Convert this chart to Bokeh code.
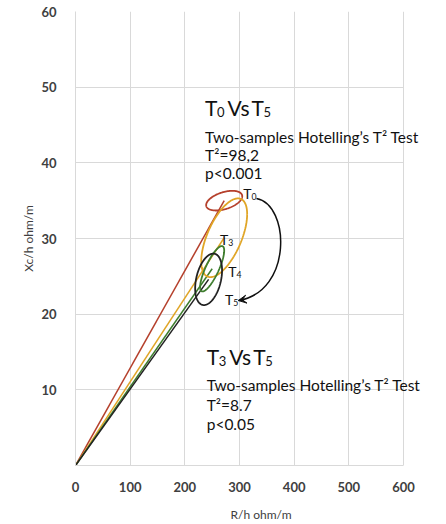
import numpy as np
from bokeh.plotting import figure
from bokeh.models import Range1d, FixedTicker, Label, Arrow, VeeHead, Title, Grid
from bokeh.embed import file_html
from bokeh.resources import INLINE

# ---- data ----
groups = ["0", "3", "4", "5"]               # T0, T3, T4, T5
colors = ["#B5402C", "#E0A526", "#3E7D2E", "#222222"]
mean_r = [272.0, 272.0, 250.0, 243.5]      # R/h ohm/m  (ellipse centre, vector end)
mean_xc = [35.0, 30.1, 26.0, 24.6]         # Xc/h ohm/m
half_r = [33.0, 42.0, 22.0, 24.6]          # ellipse half-extent along R/h
half_xc = [1.3, 5.2, 3.0, 3.4]             # ellipse half-extent along Xc/h
corr = [0.45, 0.6, 0.8, 0.35]              # ellipse tilt (correlation)

x_ticks = [0, 100, 200, 300, 400, 500, 600]
y_ticks = [10, 20, 30, 40, 50, 60]

# annotation texts
test_name = "Two-samples Hotelling’s T² Test"
upper_pair, upper_t2, upper_p = ("0", "5"), "T²=98,2", "p<0.001"
lower_pair, lower_t2, lower_p = ("3", "5"), "T²=8.7", "p<0.05"

FONT = "Lato"
W, H = 446, 524
LEFT, RIGHT_AXIS, TOP, BOTTOM = 75, 403, 11, 49
x_end = x_ticks[-1] * (W - LEFT) / (RIGHT_AXIS - LEFT)   # frame runs to the page edge

p = figure(width=W, height=H, x_range=Range1d(0, x_end), y_range=Range1d(0, y_ticks[-1]),
           output_backend="svg", toolbar_location=None,
           min_border_left=LEFT, min_border_right=0, min_border_top=TOP,
           min_border_bottom=BOTTOM)
p.outline_line_color = None
p.background_fill_color = "white"
p.border_fill_color = "white"

p.xaxis.ticker = FixedTicker(ticks=x_ticks)
p.yaxis.ticker = FixedTicker(ticks=y_ticks)
p.xaxis.bounds = (0, x_ticks[-1])
p.xgrid.ticker = FixedTicker(ticks=x_ticks)
p.ygrid.ticker = FixedTicker(ticks=[0] + y_ticks)
for g in (p.xgrid, p.ygrid):
    g.grid_line_color = "#D9D9D9"
    g.grid_line_width = 1
if "cross_bounds" in Grid.properties():
    p.ygrid.cross_bounds = (0, x_ticks[-1])
else:
    p.ygrid.visible = False
    p.segment(x0=[0] * len(y_ticks), x1=[x_ticks[-1]] * len(y_ticks), y0=y_ticks, y1=y_ticks,
              line_color="#D9D9D9", line_width=1)

for ax in (p.xaxis, p.yaxis):
    ax.axis_line_color = "#D9D9D9"
    ax.major_tick_line_color = None
    ax.minor_tick_line_color = None
    ax.major_label_text_font = FONT
    ax.major_label_text_font_size = "13px"
    ax.major_label_text_color = "#404040"
    ax.major_label_text_font_style = "bold"
p.xaxis.major_label_standoff = 10
p.yaxis.major_label_standoff = 13
p.xaxis.axis_label = "R/h ohm/m"
p.xaxis.axis_label_text_font = FONT
p.xaxis.axis_label_text_font_size = "12px"
p.xaxis.axis_label_text_font_style = "normal"
p.xaxis.axis_label_text_color = "#404040"
p.xaxis.axis_label_standoff = 12

# y axis label sits above the middle of the axis
p.add_layout(Title(text="Xc/h ohm/m", align="center", offset=36, text_font=FONT,
                   text_font_size="12px", text_font_style="normal",
                   text_color="#404040", standoff=6), "left")

# vectors from the origin to each mean
for mr, mx, c in zip(mean_r, mean_xc, colors):
    p.line([0, mr], [0, mx], line_color=c, line_width=1.5)

# confidence ellipses
t = np.linspace(0, 2 * np.pi, 200)
for mr, mx, hr, hx, rho, c in zip(mean_r, mean_xc, half_r, half_xc, corr, colors):
    ex = mr + hr * np.cos(t)
    ey = mx + hx * (rho * np.cos(t) + np.sqrt(1 - rho ** 2) * np.sin(t))
    p.line(ex, ey, line_color=c, line_width=1.8)


def sub_text(x, y, pieces, size):
    """pieces: list of (text, is_subscript, pixel offset from x)."""
    for txt, is_sub, off in pieces:
        fs = size * 0.62 if is_sub else size
        p.add_layout(Label(x=x, y=y, x_offset=off, y_offset=-size * 0.22 if is_sub else 0,
                           text=txt, text_font=FONT, text_font_size=f"{fs:.1f}px",
                           text_color="#111111", text_baseline="alphabetic"))


# group labels near the ellipses
label_x = [307.0, 264.4, 279.6, 273.6]
label_y = [35.9, 29.9, 25.6, 21.9]
for lx, ly, g in zip(label_x, label_y, groups):
    sub_text(lx, ly, [("T", False, 0), (g, True, 8.2)], 14)

# curved arrow T0 -> T5
p.bezier(x0=[331], y0=[35.3], x1=[298], y1=[21.8], cx0=[392], cy0=[34.5],
         cx1=[398], cy1=[23.0], line_color="#111111", line_width=1.5)
p.add_layout(Arrow(end=VeeHead(size=8, fill_color="#111111", line_color="#111111"),
                   x_start=306, y_start=21.9, x_end=298, y_end=21.8,
                   line_alpha=0))


# test annotations
def block(x, ys, pair, t2, pv):
    sub_text(x, ys[0], [("T", False, 0), (pair[0], True, 12), ("Vs", False, 22.5),
                        ("T", False, 46.5), (pair[1], True, 58.5)], 21)
    for yy, txt in zip(ys[1:], [test_name, t2, pv]):
        p.add_layout(Label(x=x, y=yy, text=txt, text_font=FONT, text_font_size="15.5px",
                           text_color="#111111", text_baseline="alphabetic"))


block(237.1, [47.35, 43.48, 41.03, 38.7], upper_pair, upper_t2, upper_p)
block(240.0, [14.39, 10.58, 8.0, 5.55], lower_pair, lower_t2, lower_p)

open("out.html", "w").write(file_html(p, INLINE))
